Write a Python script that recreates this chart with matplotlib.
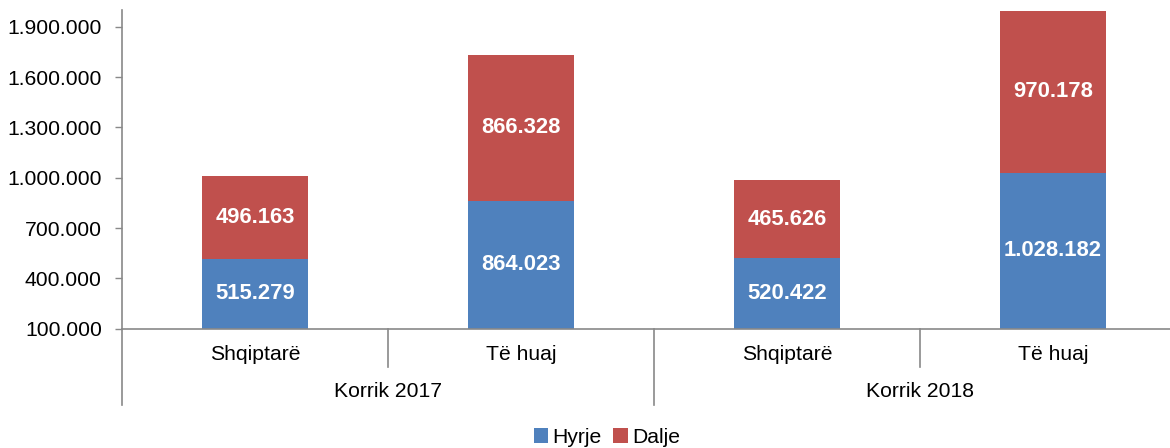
import numpy as np
import matplotlib.pyplot as plt
from matplotlib.ticker import FuncFormatter

plt.rcParams['font.family'] = ['Liberation Sans', 'DejaVu Sans']

# data
categories = ["Shqiptarë", "Të huaj", "Shqiptarë", "Të huaj"]
groups = ["Korrik 2017", "Korrik 2018"]
hyrje = [515279, 864023, 520422, 1028182]
dalje = [496163, 866328, 465626, 970178]
yticks = [100000, 400000, 700000, 1000000, 1300000, 1600000, 1900000]

blue = "#4F81BD"
red = "#C0504D"
gray = "#898989"
ymin, ymax = 100000, 2000000
fs = 15.2


def fmt(v):
    return f"{int(v):,}".replace(",", ".")


fig = plt.figure(figsize=(11.7, 4.48), dpi=100)
ax = fig.add_axes([122 / 1170, (448 - 328.5) / 448, 1064 / 1170, 318.25 / 448])

x = np.arange(len(categories))
w = 0.4
ax.bar(x, hyrje, width=w, color=blue, label="Hyrje")
ax.bar(x, dalje, width=w, bottom=hyrje, color=red, label="Dalje")

# data labels centred on the visible part of each segment
for xi, h, d in zip(x, hyrje, dalje):
    ax.text(xi, (ymin + h) / 2, fmt(h), ha="center", va="center",
            color="white", fontsize=15.8, fontweight="bold")
    ax.text(xi, h + d / 2, fmt(d), ha="center", va="center",
            color="white", fontsize=15.8, fontweight="bold")

ax.set_xlim(-0.5, 3.5)
ax.set_ylim(ymin, ymax)
ax.set_yticks(yticks)
ax.yaxis.set_major_formatter(FuncFormatter(lambda v, p: fmt(v)))
ax.tick_params(axis="y", length=5, width=1, color=gray, labelsize=fs, pad=9.5)
ax.set_xticks([])

for s in ["top", "right"]:
    ax.spines[s].set_visible(False)
for s in ["left", "bottom"]:
    ax.spines[s].set_color(gray)
    ax.spines[s].set_linewidth(1.2)

# multi-level category axis
trans = ax.get_xaxis_transform()
ah = 318.25
for xb in [0.5, 2.5]:
    ax.plot([xb, xb], [0, -38 / ah], transform=trans, color=gray, lw=1.2, clip_on=False)
for xb in [-0.5, 1.5, 3.5]:
    ax.plot([xb, xb], [0, -76 / ah], transform=trans, color=gray, lw=1.2, clip_on=False)
for xi, c in zip(x, categories):
    ax.text(xi, -26 / ah, c, transform=trans, ha="center", va="center", fontsize=fs)
for gi, g in enumerate(groups):
    ax.text(gi * 2 + 0.5, -63 / ah, g, transform=trans, ha="center", va="center", fontsize=fs)

fig.legend(loc="center", bbox_to_anchor=(607 / 1170, 1 - 437 / 448), ncol=2, frameon=False,
           fontsize=fs, handlelength=0.7, handleheight=0.7, handletextpad=0.2,
           columnspacing=0.55)

fig.savefig("out.png", dpi=100)
